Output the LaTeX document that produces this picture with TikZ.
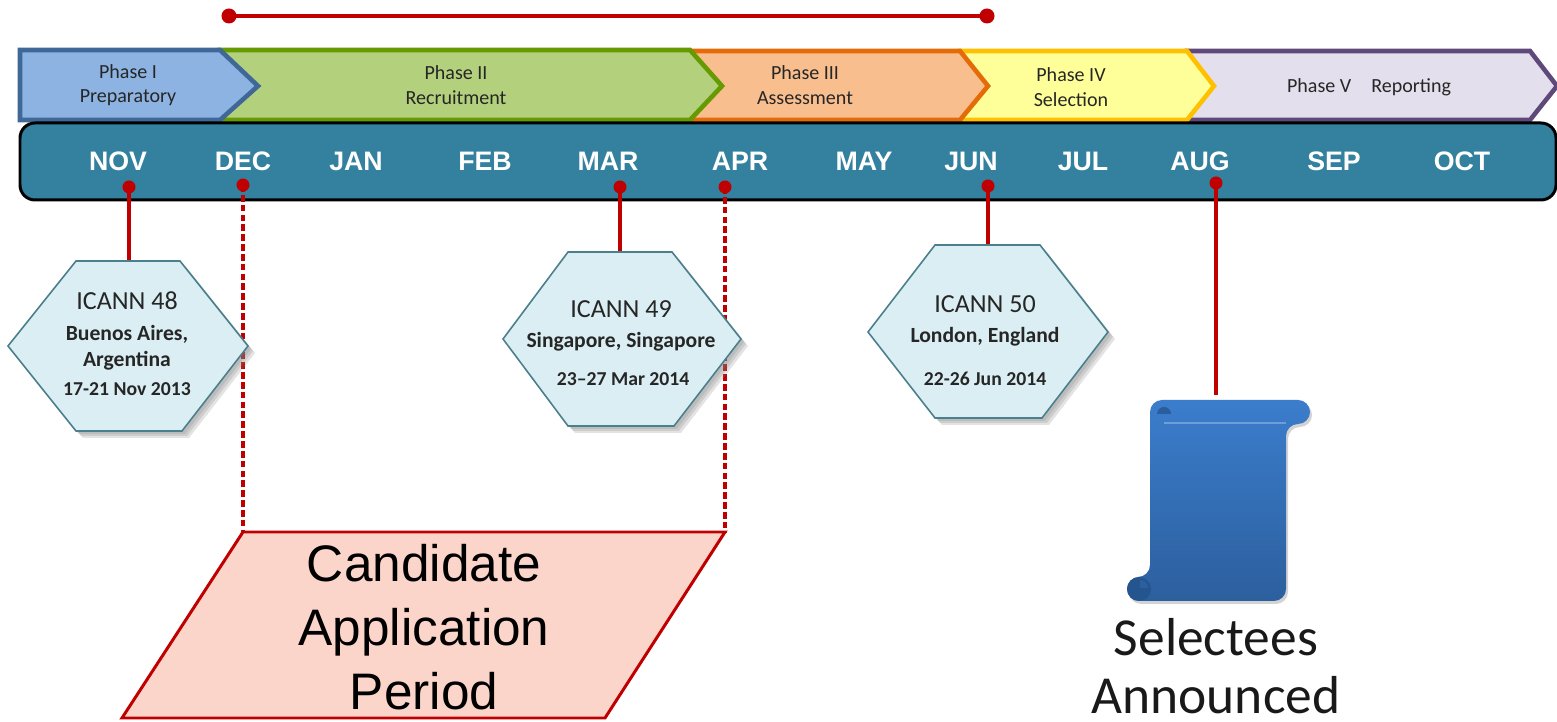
\documentclass[tikz,border=0pt]{standalone}
\usepackage{fontspec}
\setmainfont{Carlito}
\newfontfamily\arialfont{Liberation Sans}
\usetikzlibrary{shadows}
\definecolor{stemred}{HTML}{C00000}
\definecolor{barteal}{HTML}{33819E}
\definecolor{hexfill}{HTML}{DAEEF3}
\definecolor{hexline}{HTML}{4A7F8C}
\definecolor{blueline}{HTML}{3F6797}
\definecolor{bluefill}{HTML}{8DB3E2}
\definecolor{greenline}{HTML}{659A00}
\definecolor{greenfill}{HTML}{B3D07C}
\definecolor{orangeline}{HTML}{E36C09}
\definecolor{orangefill}{HTML}{F9BE8E}
\definecolor{yellowline}{HTML}{FFC000}
\definecolor{yellowfill}{HTML}{FFFF99}
\definecolor{purpleline}{HTML}{5F497A}
\definecolor{purplefill}{HTML}{E4DFEC}
\definecolor{periodfill}{HTML}{FCD5CA}
\definecolor{scrolltopc}{HTML}{3B7DCC}
\definecolor{scrollbotc}{HTML}{2C5F9E}
\definecolor{curlc}{HTML}{25558F}
\tikzset{
    stem/.style={stemred, line width=1.1pt},
    stemdash/.style={stem, dash pattern=on 1.9pt off 0.9pt},
    dot/.style={stemred, radius=0.065cm},
    phasebox/.style={line width=1.3pt, miter limit=10},
    phasetext/.style={font=\fontsize{5.7}{7}\selectfont, align=center, text=black!85},
    month/.style={font=\arialfont\bfseries\fontsize{7.6}{9}\selectfont, text=white},
    softshadow/.style={drop shadow={shadow xshift=#1, shadow yshift=-#1, opacity=0.22}},
    hexa/.style={fill=hexfill, draw=hexline, line width=0.45pt,
        softshadow=0.07cm, softshadow=0.05cm, softshadow=0.03cm},
    hexatext/.style={font=\fontsize{6}{7.4}\selectfont, align=center, text=black!85},
}
\newcommand{\hexname}{\fontsize{7.4}{7.4}\selectfont}
\newcommand{\hexinfo}{\fontsize{6.15}{7.4}\selectfont\bfseries}
\newcommand{\hexdate}{\fontsize{5.6}{7.4}\selectfont\bfseries}
\begin{document}
\begin{tikzpicture}[x=0.01cm, y=-0.01cm]
    \useasboundingbox (0,0) rectangle (1557,722);
    % span above the phases
    \coordinate (spanl) at (229,16);
    \coordinate (spanr) at (987,16);
    \draw[stem, line width=1.4pt] (spanl) -- (spanr);
    \fill[dot, radius=0.075cm] (spanl) circle;
    \fill[dot, radius=0.075cm] (spanr) circle;
    % phases, last one first
    \draw[phasebox, fill=purplefill, draw=purpleline] (1187,51) -- (1530,51) -- (1557,86) -- (1530,120) -- (1187,120) -- cycle;
    \draw[phasebox, fill=yellowfill, draw=yellowline] (960,51) -- (1187,51) -- (1214,86) -- (1187,120) -- (960,120) -- cycle;
    \draw[phasebox, fill=orangefill, draw=orangeline] (690,51) -- (960,51) -- (988,86) -- (960,120) -- (690,120) -- cycle;
    \draw[phasebox, fill=greenfill, draw=greenline] (220,50) -- (690,50) -- (722,86) -- (690,120) -- (220,120) -- cycle;
    \draw[phasebox, fill=bluefill, draw=blueline] (20,50) -- (220,50) -- (258,86) -- (220,120) -- (20,120) -- cycle;
    \node[phasetext] (phasei) at (128,85) {Phase I\\Preparatory};
    \node[phasetext] (phaseii) at (456,85) {Phase II\\Recruitment};
    \node[phasetext] (phaseiii) at (805,85) {Phase III\\Assessment};
    \node[phasetext] (phaseiv) at (1071,87) {Phase IV\\Selection};
    \node[phasetext] (phasev) at (1369,87) {Phase V\quad Reporting};
    % month bar
    \draw[fill=barteal, draw=black, line width=0.85pt, rounded corners=0.15cm] (20,123) rectangle (1556,200);
    \node[month] (nov) at (118,161) {NOV};
    \node[month] (dec) at (243,161) {DEC};
    \node[month] (jan) at (356,161) {JAN};
    \node[month] (feb) at (485,161) {FEB};
    \node[month] (mar) at (608,161) {MAR};
    \node[month] (apr) at (740,161) {APR};
    \node[month] (may) at (864,161) {MAY};
    \node[month] (jun) at (971,161) {JUN};
    \node[month] (jul) at (1083,161) {JUL};
    \node[month] (aug) at (1200,161) {AUG};
    \node[month] (sep) at (1334,161) {SEP};
    \node[month] (oct) at (1462,161) {OCT};
    % stems
    \coordinate (dotnov) at (129,187);
    \coordinate (dotdec) at (243,185);
    \coordinate (dotmar) at (620,187);
    \coordinate (dotapr) at (725,187);
    \coordinate (dotjun) at (988,186);
    \coordinate (dotaug) at (1216,183);
    \coordinate (hexatop) at (129,261);
    \coordinate (hexbtop) at (620,252);
    \coordinate (hexctop) at (988,245);
    \coordinate (scrolltop) at (1216,395);
    \coordinate (appl) at (243,532);
    \coordinate (appr) at (725,532);
    \draw[stem] (dotnov) -- (hexatop);
    \draw[stem] (dotmar) -- (hexbtop);
    \draw[stem] (dotjun) -- (hexctop);
    \draw[stem] (dotaug) -- (scrolltop);
    \draw[stemdash] (dotdec) -- (appl);
    \draw[stemdash] (dotapr) -- (appr);
    \foreach \d in {dotnov,dotdec,dotmar,dotapr,dotjun,dotaug}
        \fill[dot] (\d) circle;
    % meetings
    \draw[hexa] (8,346) -- (76,261) -- (180,261) -- (248,346) -- (182,431) -- (76,431) -- cycle;
    \node[hexatext] (icanna) at (127,344) {{\hexname ICANN 48}\\[1.4pt]{\hexinfo Buenos Aires,}\\{\hexinfo Argentina}\\[0.8pt]{\hexdate 17-21 Nov 2013}};
    \draw[hexa] (503,339) -- (568,252) -- (672,252) -- (741,339) -- (674,426) -- (568,426) -- cycle;
    \node[hexatext] (icannb) at (621,343) {{\hexname ICANN 49}\\[1.1pt]{\hexinfo Singapore, Singapore}\\[3.4pt]{\hexdate\hspace{1.2pt}23--27 Mar 2014}};
    \draw[hexa] (868,332) -- (935,245) -- (1040,245) -- (1108,332) -- (1042,418) -- (935,418) -- cycle;
    \node[hexatext] (icannc) at (985,341) {{\hexname ICANN 50}\\[1.1pt]{\hexinfo London, England}\\[4.8pt]{\hexdate 22-26 Jun 2014}};
    % application period
    \draw[fill=periodfill, draw=stemred, line width=0.85pt] (appl) -- (appr) -- (605,718) -- (122,718) -- cycle;
    \node[font=\arialfont\fontsize{14.6}{18.2}\selectfont, align=center] (period) at (424,627) {Candidate\\Application\\Period};
    % scroll
    \draw[draw=none, top color=scrolltopc, bottom color=scrollbotc, rounded corners=0.12cm,
        drop shadow={shadow xshift=0.02cm, shadow yshift=-0.03cm, opacity=0.35}]
        (1230,400) -- (1310,400) -- (1310,424) -- (1286,424) -- (1286,601) -- (1127,601) -- (1127,577) -- (1150,577) -- (1150,400) -- cycle;
    \fill[curlc!80!scrolltopc] (1157,414) arc (180:360:7) -- cycle;
    \draw[scrolltopc!75!white, line width=0.3pt] (1164,423) -- (1286,423);
    \fill[curlc] (1139,589) circle (12);
    \fill[scrollbotc] (1140,588) -- (1148,588) arc (0:-90:8) -- cycle;
    \node[font=\fontsize{15.2}{16.4}\selectfont, align=center, text=black!90, inner sep=0pt] (selectees) at (1216,666) {Selectees\\Announced};
\end{tikzpicture}
\end{document}
